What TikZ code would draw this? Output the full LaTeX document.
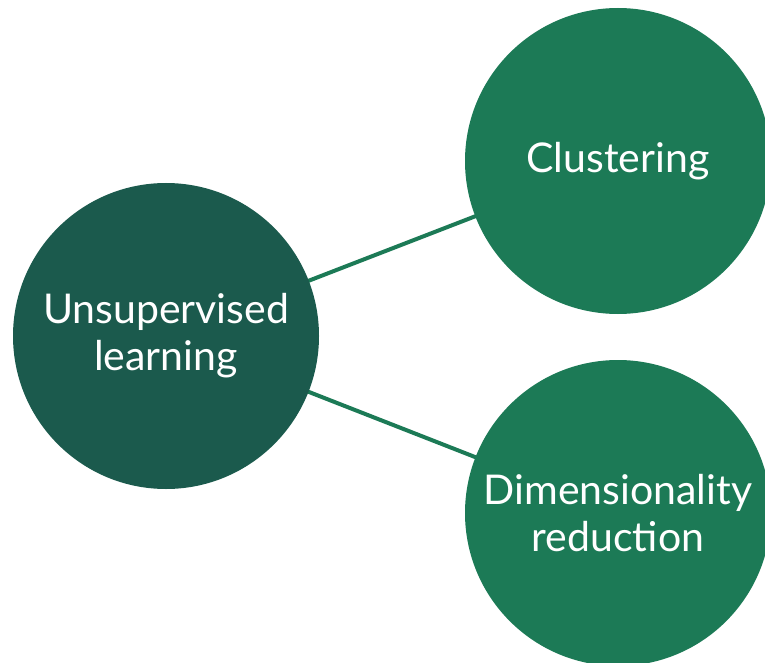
\documentclass[tikz,border=0pt]{standalone}
\usepackage{fontspec}
\setmainfont{Lato}
\usetikzlibrary{backgrounds}

\definecolor{darkteal}{HTML}{1B5A4D}
\definecolor{leafgreen}{HTML}{1C7A56}

\begin{document}
\begin{tikzpicture}[x=1pt,y=-1pt,
    bubble/.style={circle,fill=#1,text=white,minimum size=306pt,inner sep=0pt,align=center,
        font=\fontsize{41}{47}\selectfont},
    link/.style={draw=leafgreen,line width=4pt}]
\clip (0,0) rectangle (765,663);
\useasboundingbox (0,0) rectangle (765,663);

\node[bubble=darkteal] (learn) at (166,336) {Unsupervised\\learning};
\node[bubble=leafgreen] (clust) at (618,161) {Clustering};
\node[bubble=leafgreen] (dimred) at (618,513) {Dimensionality\\reduction};

\begin{scope}[on background layer]
    \draw[link] (learn.center) -- (clust.center);
    \draw[link] (learn.center) -- (dimred.center);
\end{scope}
\end{tikzpicture}
\end{document}
